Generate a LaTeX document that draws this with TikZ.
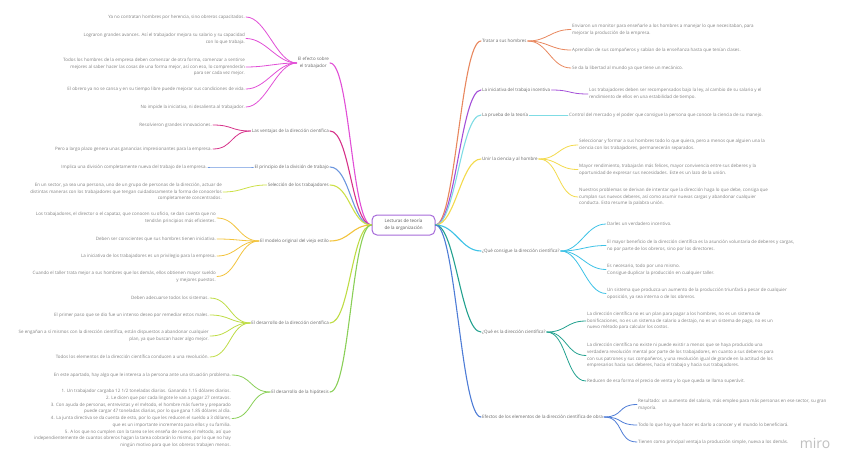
\documentclass[tikz,border=0pt]{standalone}
\usepackage{fontspec}
\setmainfont{Open Sans}
\definecolor{rootC}{HTML}{A66BD9}
\definecolor{pinkA}{HTML}{E14FD6}
\definecolor{pinkB}{HTML}{D6338A}
\definecolor{blueA}{HTML}{6D97DE}
\definecolor{limeA}{HTML}{CDE049}
\definecolor{goldA}{HTML}{F2C33D}
\definecolor{limeB}{HTML}{BEDC45}
\definecolor{greenA}{HTML}{8ACF58}
\definecolor{orangeA}{HTML}{E8875E}
\definecolor{purpleA}{HTML}{A450D8}
\definecolor{cyanA}{HTML}{7FDCE4}
\definecolor{yellowA}{HTML}{F3DA4C}
\definecolor{skyA}{HTML}{3EC2E6}
\definecolor{tealA}{HTML}{23A18F}
\definecolor{blueB}{HTML}{4E7CD6}
\tikzset{
  every node/.style={font=\fontsize{4.5}{6.7}\selectfont},
  rootbox/.style={
    draw=rootC, line width=1pt, rounded corners=5pt, fill=white,
    align=center, minimum width=63pt, minimum height=20pt,
    inner sep=2pt, text=black!65
  },
  topicL/.style={anchor=east, align=center, inner sep=1pt, text=black!60},
  topicR/.style={anchor=west, align=center, inner sep=1pt, text=black!60},
  leafL/.style={anchor=east, align=right, inner sep=1pt, text=black!50},
  leafR/.style={anchor=west, align=left, inner sep=1pt, text=black!50},
  stem/.style={line width=1.1pt, line cap=round},
  twig/.style={line width=0.8pt, line cap=round},
  toL/.style={to path={.. controls +(-20,0) and +(20,0) .. (\tikztotarget)}},
  toR/.style={to path={.. controls +(20,0) and +(-20,0) .. (\tikztotarget)}},
}
\begin{document}
\begin{tikzpicture}[x=1pt, y=-1pt]
    \useasboundingbox (0,0) rectangle (848,466);

    % Root
    \node[rootbox] (root) at (403.5,225) {Lecturas de teoría\\de la organización};

    % Left topics
    \node[topicL] (efecto) at (330,63) {El efecto sobre\\el trabajador};
    \node[topicL] (ventajas) at (330,131) {Las ventajas de la dirección científica};
    \node[topicL] (division) at (330,167) {El principio de la división de trabajo};
    \node[topicL] (seleccion) at (330,185) {Selección de los trabajadores};
    \node[topicL] (modelo) at (330,241) {El modelo original del viejo estilo};
    \node[topicL] (desarrollo) at (330,323) {El desarrollo de la dirección científica};
    \node[topicL] (hipotesis) at (330,392) {El desarrollo de la hipótesis};

    % Right topics
    \node[topicR] (tratar) at (481,41) {Tratar a sus hombres};
    \node[topicR] (iniciativa) at (481,90) {La iniciativa del trabajo incentiva};
    \node[topicR] (prueba) at (481,115) {La prueba de la teoría};
    \node[topicR] (unir) at (481,159) {Unir la ciencia y al hombre};
    \node[topicR] (consigue) at (481,251) {¿Qué consigue la dirección científica?};
    \node[topicR] (quees) at (481,332) {¿Qué es la dirección científica?};
    \node[topicR] (elementos) at (481,417) {Efectos de los elementos de la dirección científica de obra};

    % Left leaves
    \node[leafL] (e1) at (246,17) {Ya no contratan hombres por herencia, sino obreros capacitados.};
    \node[leafL] (e2) at (246,38.5) {Lograron grandes avances. Así el trabajador mejora su salario y su capacidad\\con lo que trabaja.};
    \node[leafL] (e3) at (246,67) {Todos los hombres de la empresa deben comenzar de otra forma, comenzar a sentirse\\mejores al saber hacer las cosas de una forma mejor, así con eso, lo comprenderán\\para ser cada vez mejor.};
    \node[leafL] (e4) at (246,89) {El obrero ya no se cansa y en su tiempo libre puede mejorar sus condiciones de vida.};
    \node[leafL] (e5) at (246,107) {No impide la iniciativa, ni desalienta al trabajador.};

    \node[leafL] (v1) at (213,125) {Resolvieron grandes innovaciones.};
    \node[leafL] (v2) at (213,149) {Pero a largo plazo genera unas ganancias impresionantes para la empresa.};

    \node[leafL] (d1) at (208,167) {Implica una división completamente nueva del trabajo de la empresa.};

    \node[leafL] (s1) at (223,192) {En un sector, ya sea una persona, uno de un grupo de personas de la dirección, actuar de\\distintas maneras con los trabajadores que tengan cuidadosamente la forma de conocerlos\\completamente concentrados.};

    \node[leafL] (m1) at (217,218) {Los trabajadores, el director o el capataz, que conocen su oficio, se dan cuenta que no\\tendrán principios más eficientes.};
    \node[leafL] (m2) at (217,239) {Deben ser conscientes que sus hombres tienen iniciativa.};
    \node[leafL] (m3) at (217,256) {La iniciativa de los trabajadores es un privilegio para la empresa.};
    \node[leafL] (m4) at (217,276.5) {Cuando el taller trata mejor a sus hombres que los demás, ellos obtienen mayor sueldo\\y mejores puestos.};

    \node[leafL] (a1) at (210,298) {Deben adecuarse todos los sistemas.};
    \node[leafL] (a2) at (210,315) {El primer paso que se dio fue un intenso deseo por remediar estos males.};
    \node[leafL] (a3) at (210,336) {Se engañan a sí mismos con la dirección científica, están dispuestos a abandonar cualquier\\plan, ya que buscan hacer algo mejor.};
    \node[leafL] (a4) at (210,357) {Todos los elementos de la dirección científica conducen a una revolución.};

    \node[leafL] (h1) at (232,375) {En este apartado, hay algo que le interesa a la persona ante una situación problema.};
    \node[leafL] (h2) at (232,418.5) {1. Un trabajador cargaba 12 1/2 toneladas diarias. Ganando 1.15 dólares diarios.\\2. Le dicen que por cada lingote le van a pagar 27 centavos.\\3. Con ayuda de personas, entrevistas y el método, el hombre más fuerte y preparado\\puede cargar 47 toneladas diarias, por lo que gana 1.85 dólares al día.\\4. La junta directiva se da cuenta de esto, por lo que les reducen el sueldo a 3 dólares,\\que es un importante incremento para ellos y su familia.\\5. A los que no cumplen con la tarea se les enseña de nuevo el método, así que\\independientemente de cuantos obreros hagan la tarea cobrarán lo mismo, por lo que no hay\\ningún motivo para que los obreros trabajen menos.};

    % Right leaves
    \node[leafR] (t1) at (571,29.5) {Enviaron un monitor para enseñarle a los hombres a manejar lo que necesitaban, para\\mejorar la producción de la empresa.};
    \node[leafR] (t2) at (571,50) {Aprendían de sus compañeros y sabían de la enseñanza hasta que tenían clases.};
    \node[leafR] (t3) at (571,68) {Se da la libertad al mundo ya que tiene un mecánico.};

    \node[leafR] (i1) at (588,94) {Los trabajadores deben ser recompensados bajo la ley, al cambio de su salario y el\\rendimiento de ellos en una estabilidad de tiempo.};

    \node[leafR] (p1) at (568,115) {Control del mercado y el poder que consigue la persona que conoce la ciencia de su manejo.};

    \node[leafR] (u1) at (578,145) {Seleccionar y formar a sus hombres todo lo que quiera, pero a menos que alguien una la\\ciencia con los trabajadores, permanecerán separados.};
    \node[leafR] (u2) at (578,169.5) {Mayor rendimiento, trabajarán más felices, mayor convivencia entre sus deberes y la\\oportunidad de expresar sus necesidades. Este es un lazo de la unión.};
    \node[leafR] (u3) at (578,197) {Nuestros problemas se derivan de intentar que la dirección haga lo que debe, consiga que\\cumplan sus nuevos deberes, así como asumir nuevas cargas y abandonar cualquier\\conducta. Esto resume la palabra unión.};

    \node[leafR] (c1) at (606,224) {Darles un verdadero incentivo.};
    \node[leafR] (c2) at (606,245.5) {El mayor beneficio de la dirección científica es la asunción voluntaria de deberes y cargas,\\no por parte de los obreros, sino por los directores.};
    \node[leafR] (c3) at (606,269.5) {Es necesario, todo por uno mismo.\\Consigue duplicar la producción en cualquier taller.};
    \node[leafR] (c4) at (606,293.5) {Un sistema que produzca un aumento de la producción triunfará a pesar de cualquier\\oposición, ya sea interna o de los obreros.};

    \node[leafR] (q1) at (586,321) {La dirección científica no es un plan para pagar a los hombres, no es un sistema de\\bonificaciones, no es un sistema de salario a destajo, no es un sistema de pago, no es un\\nuevo método para calcular los costos.};
    \node[leafR] (q2) at (586,355.5) {La dirección científica no existe ni puede existir a menos que se haya producido una\\verdadera revolución mental por parte de los trabajadores, en cuanto a sus deberes para\\con sus patrones y sus compañeros, y una revolución igual de grande en la actitud de los\\empresarios hacia sus deberes, hacia el trabajo y hacia sus trabajadores.};
    \node[leafR] (q3) at (586,381) {Reducen de esa forma el precio de venta y lo que queda se llama superávit.};

    \node[leafR] (x1) at (637,404.5) {Resultado: un aumento del salario, más empleo para más personas en ese sector, su gran\\mayoría.};
    \node[leafR] (x2) at (637,425) {Todo lo que hay que hacer es darlo a conocer y el mundo lo beneficiará.};
    \node[leafR] (x3) at (637,442) {Tienen como principal ventaja la producción simple, nueva a los demás.};

    % Root to topics
    \draw[stem, pinkA] (root.west) to[toL] (efecto.east);
    \draw[stem, pinkB] (root.west) to[toL] (ventajas.east);
    \draw[stem, blueA] (root.west) to[toL] (division.east);
    \draw[stem, limeA] (root.west) to[toL] (seleccion.east);
    \draw[stem, goldA] (root.west) to[toL] (modelo.east);
    \draw[stem, limeB] (root.west) to[toL] (desarrollo.east);
    \draw[stem, greenA] (root.west) to[toL] (hipotesis.east);
    \draw[stem, orangeA] (root.east) to[toR] (tratar.west);
    \draw[stem, purpleA] (root.east) to[toR] (iniciativa.west);
    \draw[stem, cyanA] (root.east) to[toR] (prueba.west);
    \draw[stem, yellowA] (root.east) to[toR] (unir.west);
    \draw[stem, skyA] (root.east) to[toR] (consigue.west);
    \draw[stem, tealA] (root.east) to[toR] (quees.west);
    \draw[stem, blueB] (root.east) to[toR] (elementos.west);

    % Topics to leaves
    \foreach \l in {e1,e2,e3,e4,e5}
      \draw[twig, pinkA] (efecto.west) to[toL] (\l.east);
    \foreach \l in {v1,v2}
      \draw[twig, pinkB] (ventajas.west) to[toL] (\l.east);
    \draw[twig, blueA] (division.west) to[toL] (d1.east);
    \draw[twig, limeA] (seleccion.west) to[toL] (s1.east);
    \foreach \l in {m1,m2,m3,m4}
      \draw[twig, goldA] (modelo.west) to[toL] (\l.east);
    \foreach \l in {a1,a2,a3,a4}
      \draw[twig, limeB] (desarrollo.west) to[toL] (\l.east);
    \foreach \l in {h1,h2}
      \draw[twig, greenA] (hipotesis.west) to[toL] (\l.east);
    \foreach \l in {t1,t2,t3}
      \draw[twig, orangeA] (tratar.east) to[toR] (\l.west);
    \draw[twig, purpleA] (iniciativa.east) to[toR] (i1.west);
    \draw[twig, cyanA] (prueba.east) to[toR] (p1.west);
    \foreach \l in {u1,u2,u3}
      \draw[twig, yellowA] (unir.east) to[toR] (\l.west);
    \foreach \l in {c1,c2,c3,c4}
      \draw[twig, skyA] (consigue.east) to[toR] (\l.west);
    \foreach \l in {q1,q2,q3}
      \draw[twig, tealA] (quees.east) to[toR] (\l.west);
    \foreach \l in {x1,x2,x3}
      \draw[twig, blueB] (elementos.east) to[toR] (\l.west);

    % Watermark
    \node[text=black!25, font=\fontsize{14}{14}\selectfont] (miro) at (815,443) {miro};
\end{tikzpicture}
\end{document}
